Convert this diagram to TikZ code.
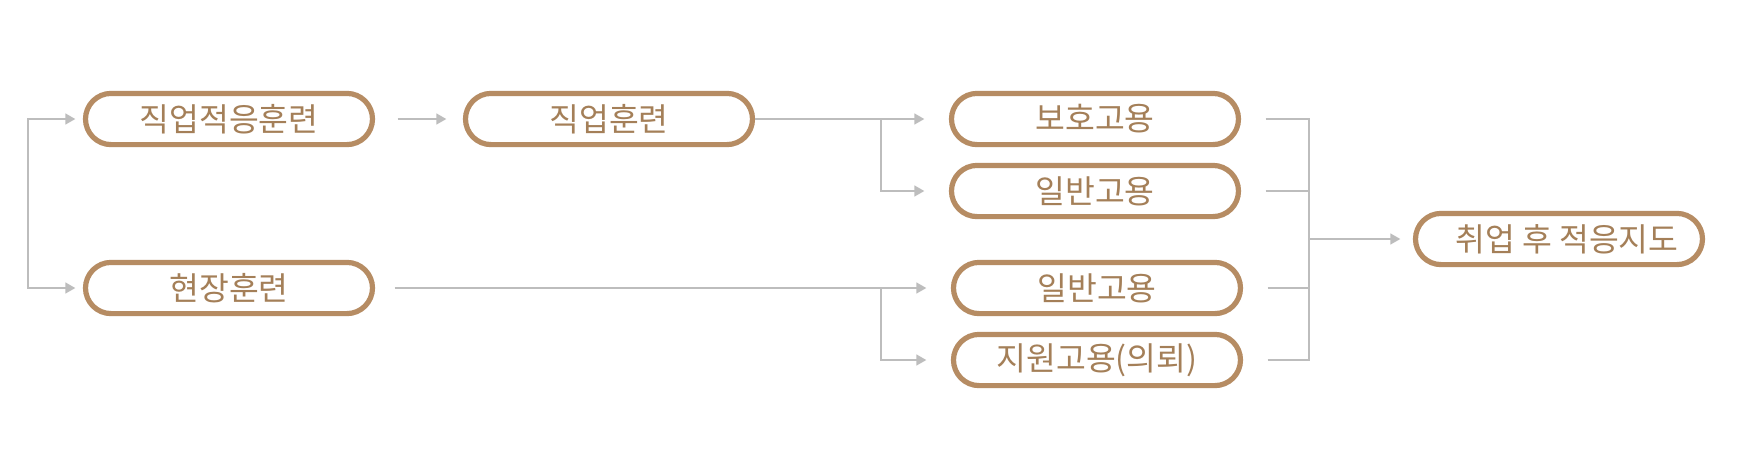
\documentclass[tikz,border=0pt]{standalone}
\usepackage{fontspec}
\newfontfamily\krfont{Noto Sans CJK KR}
\usetikzlibrary{arrows.meta}
\definecolor{pillbrown}{HTML}{B68C63}
\definecolor{textbrown}{HTML}{A47F58}
\definecolor{linegrey}{HTML}{BDBDBD}
\tikzstyle{pill} = [draw=pillbrown, line width=2.6pt, rounded corners=12.8pt, minimum width=143.5pt, minimum height=25.6pt, inner sep=0pt, text=textbrown, font=\krfont\fontsize{16.2}{19}\selectfont]
\tikzstyle{con} = [style={draw=linegrey, line width=0.75pt}]
\tikzstyle{arr} = [style={con, -{Triangle[length=5pt,width=5.5pt]}}]

\begin{document}
\begin{tikzpicture}[x=0.5pt,y=-0.5pt]
    \useasboundingbox[fill=white] (0,0) rectangle (1737,473);
    \begin{scope}
      % training
      \node[pill] (adapt) at (229,119) {직업적응훈련};
      \node[pill] (voc) at (609,119) {직업훈련};
      \node[pill] (site) at (229,288) {현장훈련};
      % employment
      \node[pill] (prot) at (1095,119) {보호고용};
      \node[pill] (gen1) at (1095,191) {일반고용};
      \node[pill] (gen2) at (1097,288) {일반고용};
      \node[pill] (supp) at (1097,360) {지원고용(의뢰)};
      \node[pill] (post) at (1559,239) {\hspace{8pt}취업 후 적응지도};
      \coordinate (split) at (28,200);
      \coordinate (brA) at (881,119);
      \coordinate (brB) at (881,288);
      \coordinate (join) at (1309,239);
      \draw[arr, shorten >=3.8pt] (split) |- (adapt.west);
      \draw[arr, shorten >=3.8pt] (split) |- (site.west);
      \draw[arr, shorten <=11.3pt, shorten >=8.3pt] (adapt) -- (voc);
      \draw[arr, shorten >=12.3pt] (voc.east) -- (prot.west);
      \draw[arr, shorten >=12.3pt] (brA) |- (gen1.west);
      \draw[arr, shorten <=9.8pt, shorten >=12.3pt] (site.east) -- (gen2.west);
      \draw[arr, shorten >=12.3pt] (brB) |- (supp.west);
      \draw[con, shorten <=12.3pt] (prot.east) -| (join);
      \draw[con, shorten <=12.3pt] (gen1.east) -| (join);
      \draw[con, shorten <=12.3pt] (gen2.east) -| (join);
      \draw[con, shorten <=12.3pt] (supp.east) -| (join);
      \draw[arr, shorten >=6.3pt] (join) -- (post.west);
    \end{scope}
  \end{tikzpicture}
\end{document}
